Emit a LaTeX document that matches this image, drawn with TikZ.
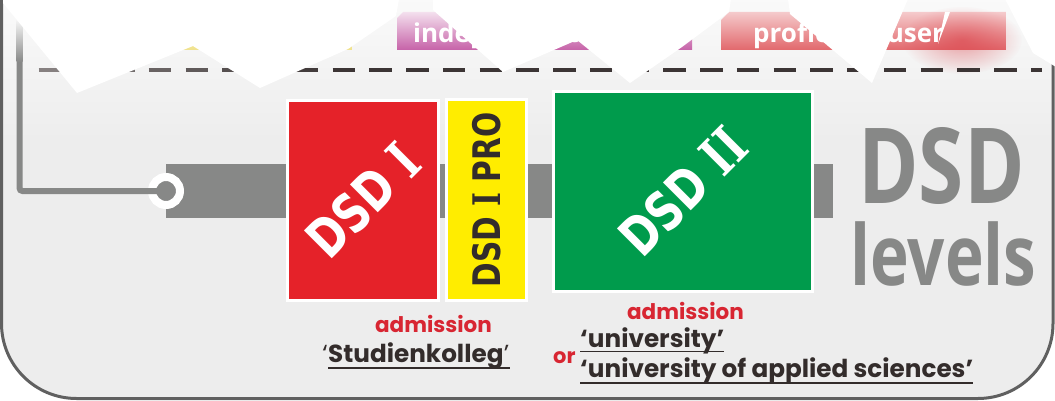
\documentclass[tikz,border=0pt]{standalone}
\usepackage{fontspec}
\usepackage{graphicx}
\usetikzlibrary{positioning, calc, fadings}

\newfontfamily\boxfont{DejaVu Sans}
\newfontfamily\slabfont{DejaVu Serif}
\newfontfamily\notefont{Poppins}
\newfontfamily\levelfont{Open Sans}

\definecolor{panelgray}{RGB}{237,237,237}
\definecolor{rimgray}{RGB}{96,96,96}
\definecolor{bargray}{RGB}{135,136,135}
\definecolor{dsdred}{RGB}{229,34,41}
\definecolor{dsdyellow}{RGB}{255,237,0}
\definecolor{dsdgreen}{RGB}{0,155,76}
\definecolor{notered}{RGB}{216,38,50}
\definecolor{notedark}{RGB}{51,44,43}
\definecolor{dashdark}{RGB}{60,53,53}
\definecolor{dashlight}{RGB}{165,160,160}
\definecolor{tabyellow}{RGB}{240,226,140}
\definecolor{tabpink}{RGB}{198,98,168}
\definecolor{tabred}{RGB}{226,104,108}
\definecolor{blobred}{RGB}{214,48,56}

\tikzfading[name=blobfade, inner color=transparent!0, outer color=transparent!100]

\newcommand{\romI}{{\slabfont I}}
\newcommand{\boxtext}[1]{\scalebox{0.78}[1]{#1}}

\tikzset{
    level/.style={draw=white, line width=3pt, inner sep=0pt},
    boxlabel/.style={inner sep=0pt, font=\boxfont\bfseries\fontsize{54}{54}\selectfont},
    bar/.style={line width=54pt, bargray},
    knob/.style={circle, fill=bargray, draw=white, line width=8pt, minimum size=28pt, inner sep=0pt},
    link/.style={line width=6pt, bargray, rounded corners=3pt},
    tabtext/.style={white, inner sep=0pt, anchor=base west, font=\levelfont\bfseries\fontsize{26}{26}\selectfont},
    note/.style={notered, inner sep=0pt, anchor=base, font=\notefont\bfseries\fontsize{21.5}{21.5}\selectfont},
    entry/.style={notedark, inner sep=0pt, anchor=base west, font=\notefont\bfseries\fontsize{24.7}{24.7}\selectfont},
    uline/.style={notedark, line width=1.5pt},
    torn/.style={fill=white}
}

\begin{document}
\begin{tikzpicture}[x=1pt, y=-1pt]
    \useasboundingbox (0,0) rectangle (1055,401);
    \clip (0,0) rectangle (1055,401);
    % panel
    \fill[panelgray] (1.5,-100) [rounded corners=75pt] -- (1.5,398.5) -- (1053,398.5) -- (1053,-100) -- cycle;
    \shade[top color=white!70!panelgray, bottom color=panelgray] (3,0) rectangle (1051,140);
    \draw[rimgray, line width=3pt, rounded corners=75pt] (1.5,-100) -- (1.5,398.5) -- (1053,398.5) -- (1053,-100);
    % tabs at the top
    \shade[top color=white!60!tabyellow, bottom color=tabyellow] (70,50) -- (70,20) -- (78,12) -- (352,12) -- (352,50) -- cycle;
    \shade[top color=white!80!tabpink, bottom color=tabpink] (397,50) -- (397,18) -- (403,12) -- (692,12) -- (692,50) -- cycle;
    \node[tabtext] (indep) at (413,43) {independent user};
    \shade[top color=white!65!tabred, bottom color=tabred] (721,50) -- (721,20) -- (729,12) -- (1006,12) -- (1006,50) -- cycle;
    \fill[blobred, fill opacity=0.45, path fading=blobfade] (962,40) ellipse (60pt and 34pt);
    \node[tabtext] (profi) at (753,43) {proficient user};
    % dashed divider
    \foreach \k in {0,...,27} {
        \pgfmathsetmacro{\dk}{min(100, 30 + 9*\k)}
        \pgfmathsetmacro{\xa}{38.5 + 36.75*\k}
        \pgfmathsetmacro{\xb}{min(\xa + 22.5, 1042)}
        \draw[line width=4pt, dashdark!\dk!dashlight] (\xa,70) -- (\xb,70);
    }
    % gray bar
    \coordinate (start) at (166,191);
    \coordinate (barend) at (833,191);
    \coordinate (linktop) at (19.5,20);
    \draw[bar] (start) -- (barend);
    \node[knob] (ring) at (start) {};
    \draw[link] (linktop) |- (ring.center);
    \shade[top color=white, bottom color=bargray] (16.5,16) rectangle (22.5,62);
    % torn top edge
    \fill[torn] (3,-1) -- (3,3) -- (77,93) -- (193,46) -- (260,88) -- (348,49) -- (396,16) -- (399,-1) -- cycle;
    \fill[torn] (433,-1) -- (433,10) -- (503,72) -- (577,40) -- (630,83) -- (682,47) -- (729,12) -- (731,-1) -- cycle;
    \fill[torn] (788,-1) -- (790,14) -- (872,83) -- (908,-1) -- cycle;
    \fill[torn] (945,12) -- (950,12) -- (938,44) -- cycle;
    \fill[torn] (1005,-1) -- (1033,53) -- (1056,67) -- (1056,-1) -- cycle;
    % DSD levels
    \node[level, fill=dsdred, minimum width=151pt, minimum height=200pt] (dsdone) at (363,200.5) {};
    \node[level, fill=dsdyellow, minimum width=80pt, minimum height=201pt] (dsdpro) at (486.5,200) {};
    \node[level, fill=dsdgreen, minimum width=259pt, minimum height=200pt] (dsdtwo) at (683,191.5) {};
    \node[boxlabel, white, rotate=45] (onetext) at (dsdone.center) {\boxtext{DSD \romI}};
    \node[boxlabel, notedark, rotate=90, font=\boxfont\bfseries\fontsize{38}{38}\selectfont] (protext) at (dsdpro.center) {\boxtext{DSD \romI{} PRO}};
    \node[boxlabel, white, rotate=45] (twotext) at (dsdtwo.center) {\boxtext{DSD \romI\romI}};
    % title
    \node[bargray, inner sep=0pt, anchor=base, font=\levelfont\bfseries\fontsize{105}{105}\selectfont, xscale=0.78] (title) at (941.5,203) {DSD};
    \node[bargray, inner sep=0pt, anchor=base, font=\levelfont\bfseries\fontsize{84}{84}\selectfont, xscale=0.78] (sub) at (943.5,285) {levels};
    % admission notes
    \node[note] (admone) at (433.5,332) {admission};
    \node[entry] (stud) at (328,362) {Studienkolleg};
    \node[entry, anchor=base east, font=\notefont\fontsize{24.7}{24.7}\selectfont] (studl) at (stud.base west) {‘};
    \node[entry, font=\notefont\fontsize{24.7}{24.7}\selectfont] (studr) at (stud.base east) {’};
    \draw[uline] ($(stud.base west)+(0,6)$) -- ($(studr.base east)+(0,6)$);
    \node[note] (admtwo) at (685.5,319) {admission};
    \node[note, anchor=base west, font=\notefont\bfseries\fontsize{21}{21}\selectfont] (or) at (553,363) {or};
    \node[entry] (uni) at (580,347) {‘university’};
    \draw[uline] ($(uni.base west)+(0,4.5)$) -- ($(uni.base east)+(0,4.5)$);
    \node[entry] (uas) at (580,377) {‘university of applied sciences’};
    \draw[uline] ($(uas.base west)+(0,6)$) -- ($(uas.base east)+(0,6)$);
\end{tikzpicture}
\end{document}
